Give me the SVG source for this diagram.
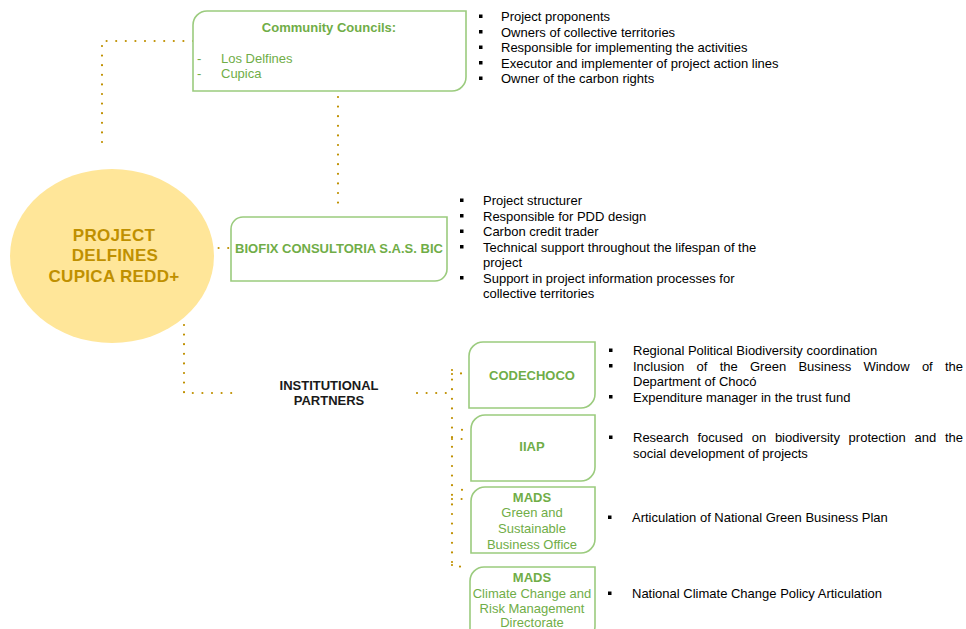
<svg xmlns="http://www.w3.org/2000/svg" width="966" height="629" viewBox="0 0 966 629">
<style>
.box{fill:#fff;stroke:#9BCB7E;stroke-width:1.6}
.con{fill:none;stroke:#BF9000;stroke-width:2.2;stroke-linecap:round;stroke-dasharray:0 9.6}
.g{font-family:"Liberation Sans",Arial,sans-serif;font-size:13px;fill:#70AD47}
.gb{font-family:"Liberation Sans",Arial,sans-serif;font-size:13px;font-weight:bold;fill:#70AD47}
.t{font-family:"Liberation Sans",Arial,sans-serif;font-size:13px;fill:#000}
.tb{font-family:"Liberation Sans",Arial,sans-serif;font-size:13px;font-weight:bold;fill:#1a1a1a}
.p{font-family:"Liberation Sans",Arial,sans-serif;font-size:17px;font-weight:bold;fill:#BF9000;letter-spacing:0.3px}
.c{text-anchor:middle}
.b{fill:#000}
</style>
<rect width="966" height="629" fill="#fff"/>
<g id="connectors">
<path class="con" d="M193,41 H102 V150"/>
<path class="con" d="M338,97 V207"/>
<path class="con" d="M209,248 H231"/>
<path class="con" d="M184,325 V393 H238"/>
<path class="con" d="M417,393 H452"/>
<path class="con" d="M452,370 V567"/>
<path class="con" d="M452,374 H461 V365"/>
<path class="con" d="M452,439 H462 V429"/>
<path class="con" d="M452,499 H462 V489"/>
<path class="con" d="M452,565 H460 V575"/>
</g>
<g id="project">
<ellipse cx="112" cy="256" rx="102" ry="87" fill="#FFE699"/>
<text class="p c" x="114" y="241">PROJECT</text>
<text class="p c" x="115" y="261">DELFINES</text>
<text class="p c" x="114" y="282">CUPICA REDD+</text>
</g>
<g id="community-councils">
<path class="box" d="M207,11 H466 V77 A14,14 0 0 1 452,91 H193 V25 A14,14 0 0 1 207,11 Z"/>
<text class="gb c" x="329" y="32">Community Councils:</text>
<text class="g" x="197" y="63">-</text><text class="g" x="221" y="63">Los Delfines</text>
<text class="g" x="197" y="78">-</text><text class="g" x="221" y="78">Cupica</text>
</g>
<g id="cc-roles">
<rect class="b" x="479" y="14.5" width="3.5" height="3.5"/><text class="t" x="501" y="21">Project proponents</text>
<rect class="b" x="479" y="30" width="3.5" height="3.5"/><text class="t" x="501" y="36.5">Owners of collective territories</text>
<rect class="b" x="479" y="45.5" width="3.5" height="3.5"/><text class="t" x="501" y="52">Responsible for implementing the activities</text>
<rect class="b" x="479" y="61" width="3.5" height="3.5"/><text class="t" x="501" y="67.5">Executor and implementer of project action lines</text>
<rect class="b" x="479" y="76.5" width="3.5" height="3.5"/><text class="t" x="501" y="83">Owner of the carbon rights</text>
</g>
<g id="biofix">
<path class="box" d="M243,217 H447 V269 A12,12 0 0 1 435,281 H231 V229 A12,12 0 0 1 243,217 Z"/>
<text class="gb c" x="339" y="253">BIOFIX CONSULTORIA S.A.S. BIC</text>
</g>
<g id="biofix-roles">
<rect class="b" x="460" y="198.5" width="3.5" height="3.5"/><text class="t" x="483" y="205">Project structurer</text>
<rect class="b" x="460" y="214" width="3.5" height="3.5"/><text class="t" x="483" y="220.5">Responsible for PDD design</text>
<rect class="b" x="460" y="229.5" width="3.5" height="3.5"/><text class="t" x="483" y="236">Carbon credit trader</text>
<rect class="b" x="460" y="245" width="3.5" height="3.5"/><text class="t" x="483" y="251.5">Technical support throughout the lifespan of the</text>
<text class="t" x="483" y="267">project</text>
<rect class="b" x="460" y="276" width="3.5" height="3.5"/><text class="t" x="483" y="282.5">Support in project information processes for</text>
<text class="t" x="483" y="298">collective territories</text>
</g>
<g id="institutional-partners">
<text class="tb c" x="329" y="390">INSTITUTIONAL</text>
<text class="tb c" x="329" y="405">PARTNERS</text>
</g>
<g id="codechoco">
<path class="box" d="M483,342 H595 V394 A14,14 0 0 1 581,408 H469 V356 A14,14 0 0 1 483,342 Z"/>
<text class="gb c" x="532" y="380">CODECHOCO</text>
</g>
<g id="codechoco-roles">
<rect class="b" x="609" y="348.5" width="3.5" height="3.5"/><text class="t" x="633" y="355">Regional Political Biodiversity coordination</text>
<rect class="b" x="609" y="364" width="3.5" height="3.5"/><text class="t" y="370.5"><tspan x="633">Inclusion</tspan><tspan x="696.6">of</tspan><tspan x="719.7">the</tspan><tspan x="750">Green</tspan><tspan x="798.4">Business</tspan><tspan x="863.4">Window</tspan><tspan x="921.9">of</tspan><tspan x="945">the</tspan></text>
<text class="t" x="633" y="386">Department of Chocó</text>
<rect class="b" x="609" y="395" width="3.5" height="3.5"/><text class="t" x="633" y="401.5">Expenditure manager in the trust fund</text>
</g>
<g id="iiap">
<path class="box" d="M485,415 H595 V467 A14,14 0 0 1 581,481 H471 V429 A14,14 0 0 1 485,415 Z"/>
<text class="gb c" x="532" y="451">IIAP</text>
</g>
<g id="iiap-roles">
<rect class="b" x="609" y="435.5" width="3.5" height="3.5"/><text class="t" y="442"><tspan x="633">Research</tspan><tspan x="697.4">focused</tspan><tspan x="751.7">on</tspan><tspan x="774.9">biodiversity</tspan><tspan x="848.6">protection</tspan><tspan x="914.5">and</tspan><tspan x="944.9">the</tspan></text>
<text class="t" x="633" y="457.5">social development of projects</text>
</g>
<g id="mads-green">
<path class="box" d="M485,487 H595 V539 A14,14 0 0 1 581,553 H471 V501 A14,14 0 0 1 485,487 Z"/>
<text class="gb c" x="532" y="502">MADS</text>
<text class="g c" x="532" y="517">Green and</text>
<text class="g c" x="532" y="533">Sustainable</text>
<text class="g c" x="532" y="549">Business Office</text>
</g>
<g id="mads-green-roles">
<rect class="b" x="608" y="515.5" width="3.5" height="3.5"/><text class="t" x="632" y="522">Articulation of National Green Business Plan</text>
</g>
<g id="mads-climate">
<path class="box" d="M484,567 H595 V626 A14,14 0 0 1 581,640 H470 V581 A14,14 0 0 1 484,567 Z"/>
<text class="gb c" x="532" y="582">MADS</text>
<text class="g c" x="532" y="597.5">Climate Change and</text>
<text class="g c" x="532" y="612.5">Risk Management</text>
<text class="g c" x="532" y="627">Directorate</text>
</g>
<g id="mads-climate-roles">
<rect class="b" x="608" y="591.5" width="3.5" height="3.5"/><text class="t" x="632" y="598">National Climate Change Policy Articulation</text>
</g>
</svg>
